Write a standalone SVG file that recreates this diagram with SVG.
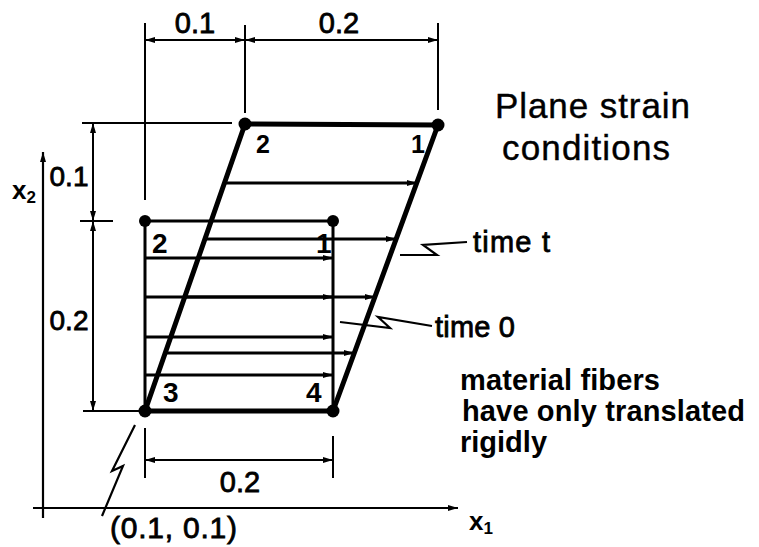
<svg xmlns="http://www.w3.org/2000/svg" width="759" height="547" viewBox="0 0 759 547">
<style>
.ln{stroke:#000;fill:none;stroke-width:2.2}
.thin{stroke:#000;fill:none;stroke-width:2}
.thick{stroke:#000;fill:none;stroke-width:5;stroke-linecap:round}
.fib{stroke:#000;fill:none;stroke-width:3}
.t{font-family:"Liberation Sans",Arial,sans-serif;fill:#000}
.b{font-weight:bold}
.s{stroke:#000;stroke-width:0.8}
</style>
<defs>
<marker id="ah" viewBox="0 0 10 8" refX="10" refY="4" markerWidth="10" markerHeight="8" markerUnits="userSpaceOnUse" orient="auto-start-reverse">
<path d="M0,1 L10,4 L0,7 Z" fill="#000"/>
</marker>
</defs>

<g id="connectors">
<!-- axes -->
<line class="ln" x1="43" y1="518" x2="43" y2="152" marker-end="url(#ah)"/>
<line class="ln" x1="33" y1="508" x2="458" y2="508" marker-end="url(#ah)"/>
<!-- top dimension -->
<line class="thin" x1="145" y1="23" x2="145" y2="200"/>
<line class="thin" x1="245" y1="25" x2="245" y2="113"/>
<line class="thin" x1="438" y1="23" x2="438" y2="110"/>
<line class="thin" x1="145" y1="40" x2="245" y2="40" marker-start="url(#ah)" marker-end="url(#ah)"/>
<line class="thin" x1="245" y1="40" x2="438" y2="40" marker-start="url(#ah)" marker-end="url(#ah)"/>
<!-- left dimension -->
<line class="ln" x1="82" y1="123" x2="232" y2="123"/>
<line class="ln" x1="80" y1="221" x2="113" y2="221"/>
<line class="ln" x1="83" y1="411" x2="145" y2="411"/>
<line class="thin" x1="93" y1="123" x2="93" y2="221" marker-start="url(#ah)" marker-end="url(#ah)"/>
<line class="thin" x1="93" y1="221" x2="93" y2="411" marker-start="url(#ah)" marker-end="url(#ah)"/>
<!-- bottom dimension -->
<line class="thin" x1="145" y1="428" x2="145" y2="478"/>
<line class="thin" x1="333" y1="436" x2="333" y2="478"/>
<line class="thin" x1="145" y1="460" x2="333" y2="460" marker-start="url(#ah)" marker-end="url(#ah)"/>
<!-- break leader to (0.1,0.1) -->
<polyline class="ln" points="135,425 112,471 123,466 102,516"/>
<!-- time leaders -->
<polyline class="ln" points="400,255 437,255 423,245 467,242"/>
<polyline class="ln" points="340,322 390,328 378,317 432,326"/>
</g>

<g id="fibers">
<!-- time 0 fibers -->
<line class="fib" x1="145" y1="258" x2="333" y2="258" marker-end="url(#ah)"/>
<line class="fib" x1="145" y1="297" x2="333" y2="297" marker-end="url(#ah)"/>
<line class="fib" x1="145" y1="337" x2="333" y2="337" marker-end="url(#ah)"/>
<line class="fib" x1="145" y1="375" x2="333" y2="375" marker-end="url(#ah)"/>
<!-- time t fibers -->
<line class="fib" x1="224" y1="183" x2="417" y2="183" marker-end="url(#ah)"/>
<line class="fib" x1="205" y1="239" x2="396" y2="239" marker-end="url(#ah)"/>
<line class="fib" x1="185" y1="297" x2="375" y2="297" marker-end="url(#ah)"/>
<line class="fib" x1="165" y1="353" x2="354" y2="353" marker-end="url(#ah)"/>
</g>

<g id="time0">
<path d="M145,221 L333,221 M145,221 L145,411 M333,221 L333,411" stroke="#000" stroke-width="3" fill="none"/>
<circle cx="145" cy="221" r="6"/>
<circle cx="333" cy="221" r="6"/>
</g>

<g id="timet">
<polygon class="thick" points="245,124 438,125 333,411 145,411" stroke-linejoin="round"/>
<circle cx="245" cy="124" r="6.5"/>
<circle cx="438" cy="125" r="6.5"/>
<circle cx="145" cy="411" r="6.5"/>
<circle cx="333" cy="411" r="6.5"/>
</g>

<g id="labels">
<text class="t b" x="256" y="153" font-size="25">2</text>
<text class="t b" x="411" y="153" font-size="25">1</text>
<text class="t b" x="152" y="253" font-size="28">2</text>
<text class="t b" x="316" y="253" font-size="28">1</text>
<text class="t b" x="163" y="402" font-size="28">3</text>
<text class="t b" x="306" y="402" font-size="28">4</text>
<text class="t s" x="195" y="33" font-size="29" text-anchor="middle">0.1</text>
<text class="t s" x="339" y="33" font-size="29" text-anchor="middle">0.2</text>
<text class="t s" x="69" y="186" font-size="28" text-anchor="middle">0.1</text>
<text class="t s" x="69" y="330" font-size="28" text-anchor="middle">0.2</text>
<text class="t s" x="240" y="492" font-size="29" text-anchor="middle">0.2</text>
<text class="t s" x="110" y="538" font-size="30" textLength="127">(0.1, 0.1)</text>
<text class="t b" x="12" y="199" font-size="26">x<tspan font-size="17" dy="4">2</tspan></text>
<text class="t b" x="469" y="530" font-size="26">x<tspan font-size="17" dy="4">1</tspan></text>
<text class="t s" x="473" y="252" font-size="29" textLength="77">time t</text>
<text class="t s" x="435" y="337" font-size="29" textLength="80">time 0</text>
<text class="t" x="495" y="118" font-size="35" stroke="#000" stroke-width="0.4" textLength="195">Plane strain</text>
<text class="t" x="502" y="160" font-size="35" stroke="#000" stroke-width="0.4" textLength="168">conditions</text>
<text class="t b" x="460" y="390" font-size="29" textLength="200">material fibers</text>
<text class="t b" x="462" y="421" font-size="29" textLength="283">have only translated</text>
<text class="t b" x="460" y="452" font-size="29">rigidly</text>
</g>
</svg>
